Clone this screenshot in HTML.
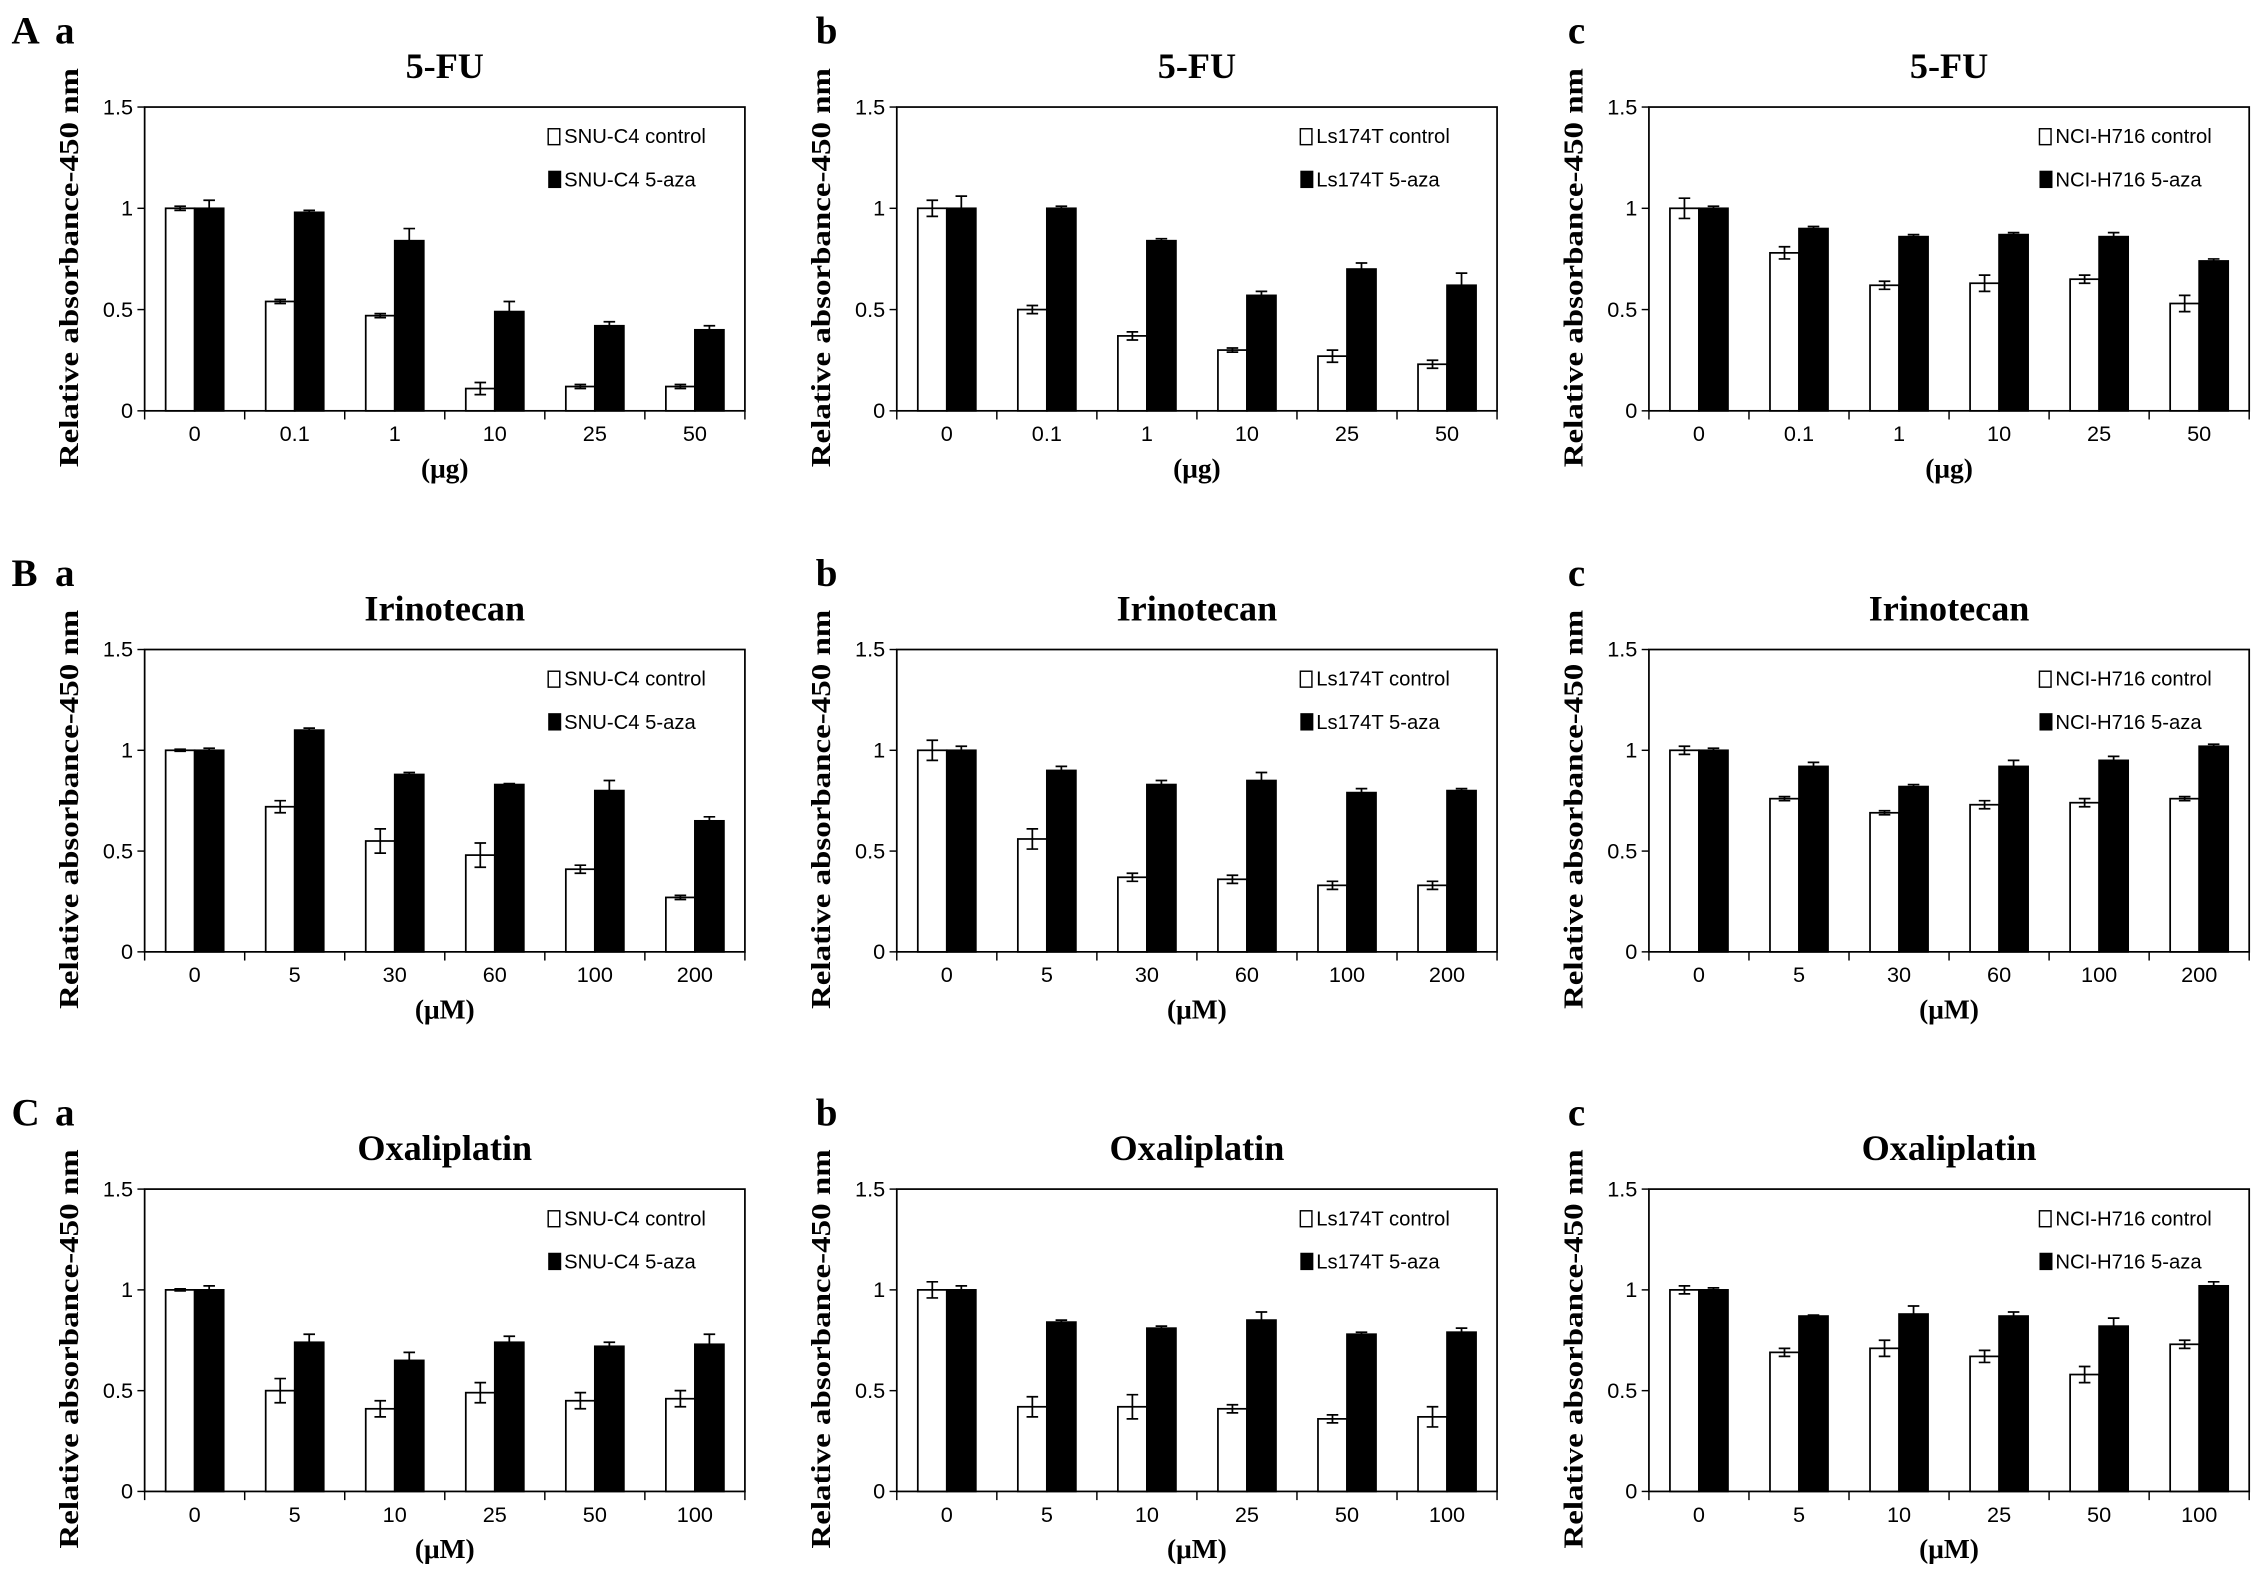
<!DOCTYPE html>
<html><head><meta charset="utf-8"><style>
html,body{margin:0;padding:0;background:#fff;}
svg{display:block;}
</style></head><body>
<svg id="fig" width="2268" height="1571" viewBox="0 0 1568 1086" preserveAspectRatio="none" xmlns="http://www.w3.org/2000/svg"></svg>
<script>
const panelIds = ["Aa","Ab","Ac","Ba","Bb","Bc","Ca","Cb","Cc"];
const titles = ["5-FU","Irinotecan","Oxaliplatin"];
const units = ["(μg)","(μM)","(μM)"];
const catsA = ["0","0.1","1","10","25","50"];
const catsB = ["0","5","30","60","100","200"];
const catsC = ["0","5","10","25","50","100"];
const cellLines = ["SNU-C4","Ls174T","NCI-H716"];
const yTicks = [0,0.5,1,1.5];
const yTickLabels = ["0","0.5","1","1.5"];

const ctrlAa=[1,0.54,0.47,0.11,0.12,0.12], ctrlErrAa=[0.01,0.01,0.01,0.03,0.01,0.01];
const azaAa=[1,0.98,0.84,0.49,0.42,0.40], azaErrAa=[0.04,0.01,0.06,0.05,0.02,0.02];
const ctrlAb=[1,0.5,0.37,0.3,0.27,0.23], ctrlErrAb=[0.04,0.02,0.02,0.01,0.03,0.02];
const azaAb=[1,1.0,0.84,0.57,0.7,0.62], azaErrAb=[0.06,0.01,0.01,0.02,0.03,0.06];
const ctrlAc=[1,0.78,0.62,0.63,0.65,0.53], ctrlErrAc=[0.05,0.03,0.02,0.04,0.02,0.04];
const azaAc=[1,0.9,0.86,0.87,0.86,0.74], azaErrAc=[0.01,0.01,0.01,0.01,0.02,0.01];
const ctrlBa=[1,0.72,0.55,0.48,0.41,0.27], ctrlErrBa=[0.005,0.03,0.06,0.06,0.02,0.01];
const azaBa=[1,1.1,0.88,0.83,0.8,0.65], azaErrBa=[0.01,0.01,0.01,0.005,0.05,0.02];
const ctrlBb=[1,0.56,0.37,0.36,0.33,0.33], ctrlErrBb=[0.05,0.05,0.02,0.02,0.02,0.02];
const azaBb=[1,0.9,0.83,0.85,0.79,0.8], azaErrBb=[0.02,0.02,0.02,0.04,0.02,0.01];
const ctrlBc=[1,0.76,0.69,0.73,0.74,0.76], ctrlErrBc=[0.02,0.01,0.01,0.02,0.02,0.01];
const azaBc=[1,0.92,0.82,0.92,0.95,1.02], azaErrBc=[0.01,0.02,0.01,0.03,0.02,0.01];
const ctrlCa=[1,0.5,0.41,0.49,0.45,0.46], ctrlErrCa=[0.005,0.06,0.04,0.05,0.04,0.04];
const azaCa=[1,0.74,0.65,0.74,0.72,0.73], azaErrCa=[0.02,0.04,0.04,0.03,0.02,0.05];
const ctrlCb=[1,0.42,0.42,0.41,0.36,0.37], ctrlErrCb=[0.04,0.05,0.06,0.02,0.02,0.05];
const azaCb=[1,0.84,0.81,0.85,0.78,0.79], azaErrCb=[0.02,0.01,0.01,0.04,0.01,0.02];
const ctrlCc=[1,0.69,0.71,0.67,0.58,0.73], ctrlErrCc=[0.02,0.02,0.04,0.03,0.04,0.02];
const azaCc=[1,0.87,0.88,0.87,0.82,1.02], azaErrCc=[0.01,0.005,0.04,0.02,0.04,0.02];

const ctrlAll=[ctrlAa,ctrlAb,ctrlAc,ctrlBa,ctrlBb,ctrlBc,ctrlCa,ctrlCb,ctrlCc];
const ctrlErrAll=[ctrlErrAa,ctrlErrAb,ctrlErrAc,ctrlErrBa,ctrlErrBb,ctrlErrBc,ctrlErrCa,ctrlErrCb,ctrlErrCc];
const azaAll=[azaAa,azaAb,azaAc,azaBa,azaBb,azaBc,azaCa,azaCb,azaCc];
const azaErrAll=[azaErrAa,azaErrAb,azaErrAc,azaErrBa,azaErrBb,azaErrBc,azaErrCa,azaErrCb,azaErrCc];
const catsAll=[catsA,catsB,catsC];

const NS="http://www.w3.org/2000/svg";
const svg=document.getElementById('fig');
function mk(tag,attrs,parent,text){
  const e=document.createElementNS(NS,tag);
  for(const k in attrs) e.setAttribute(k,attrs[k]);
  if(text!==undefined) e.textContent=text;
  (parent||svg).appendChild(e);
  return e;
}
const colLeft=[100,620,1140], plotW=415;
const rowTop=[74,449,822], rowBot=[284,658,1031];
const legX=[379,899,1410];
const rowLetters=["A","B","C"], colLetters=["a","b","c"];

for(let r=0;r<3;r++){
  for(let c=0;c<3;c++){
    const idx=r*3+c;
    const g=mk('g',{});
    
    
    const L=colLeft[c], R=L+plotW, T=rowTop[r], B=rowBot[r];
    const y=v=>B-(v/1.5)*(B-T);
    const cats=catsAll[r];
    const gw=plotW/cats.length;
    const x=i=>L+i*gw;
    if(c===0){
      const t=mk('text',{x:8,y:T-44,'font-family':'"Liberation Serif",serif','font-weight':'bold','font-size':27},g,rowLetters[r]);
      
      
    }
    const sl=mk('text',{x:c===0?38:L-56,y:T-44,'font-family':'"Liberation Serif",serif','font-weight':'bold','font-size':27},g,colLetters[c]);
    
    
    const tt=mk('text',{x:(L+R)/2,y:T-20,'text-anchor':'middle','font-family':'"Liberation Serif",serif','font-weight':'bold','font-size':25},g,titles[r]);
    
    
    const yc=(T+B)/2+6, yx=L-46;
    const yt=mk('text',{x:yx,y:yc,'text-anchor':'middle','font-family':'"Liberation Serif",serif','font-weight':'bold','font-size':19,textLength:276,lengthAdjust:'spacingAndGlyphs',transform:`rotate(-90 ${yx} ${yc})`},g,'Relative absorbance-450 nm');
    
    
    const fr=mk('rect',{x:L,y:T,width:plotW,height:B-T,fill:'none',stroke:'#000','stroke-width':1.2},g);
    
    
    yTicks.forEach((v,i)=>{
      const tk=mk('line',{x1:L-5,x2:L,y1:y(v),y2:y(v),stroke:'#000','stroke-width':1},g);
      
      
      const tl=mk('text',{x:L-8,y:y(v)+5,'text-anchor':'end','font-family':'"Liberation Sans",sans-serif','font-size':15},g,yTickLabels[i]);
      
      
    });
    for(let i=0;i<=cats.length;i++){
      const tk=mk('line',{x1:x(i),x2:x(i),y1:B,y2:B+6,stroke:'#000','stroke-width':1},g);
      
      
    }
    cats.forEach((lab,i)=>{
      const tl=mk('text',{x:x(i)+gw/2,y:B+21,'text-anchor':'middle','font-family':'"Liberation Sans",sans-serif','font-size':15},g,lab);
      
      
    });
    const ut=mk('text',{x:(L+R)/2,y:B+46,'text-anchor':'middle','font-family':'"Liberation Serif",serif','font-weight':'bold','font-size':19},g,units[r]);
    
    
    const bw=gw*0.29, off=(gw-2*bw)/2;
    const ctrl=ctrlAll[idx], ce=ctrlErrAll[idx], aza=azaAll[idx], ae=azaErrAll[idx];
    function errbar(cx,v,e){
      const eb=mk('path',{d:`M${cx},${y(v-e)}V${y(v+e)}M${cx-4},${y(v-e)}H${cx+4}M${cx-4},${y(v+e)}H${cx+4}`,stroke:'#000','stroke-width':1.2,fill:'none'},g);
      
      
    }
    cats.forEach((lab,i)=>{
      const x0=x(i)+off;
      const b1=mk('rect',{x:x0,y:y(ctrl[i]),width:bw,height:B-y(ctrl[i]),fill:'#fff',stroke:'#000','stroke-width':1.2},g);
      
      
      errbar(x0+bw/2,ctrl[i],ce[i]);
      const b2=mk('rect',{x:x0+bw,y:y(aza[i]),width:bw,height:B-y(aza[i]),fill:'#000',stroke:'#000','stroke-width':1.2},g);
      
      
      errbar(x0+1.5*bw,aza[i],ae[i]);
    });
    const lx=legX[c], ly=T+25;
    const l1=mk('g',{},g);
    
    
    mk('rect',{x:lx,y:ly-10,width:8,height:11,fill:'#fff',stroke:'#000','stroke-width':1},l1);
    mk('text',{x:lx+11,y:ly,'font-family':'"Liberation Sans",sans-serif','font-size':14},l1,cellLines[c]+' control');
    const l2=mk('g',{},g);
    
    
    mk('rect',{x:lx,y:ly+19,width:9,height:12,fill:'#000'},l2);
    mk('text',{x:lx+11,y:ly+30,'font-family':'"Liberation Sans",sans-serif','font-size':14},l2,cellLines[c]+' 5-aza');
  }
}
</script>
</body></html>
